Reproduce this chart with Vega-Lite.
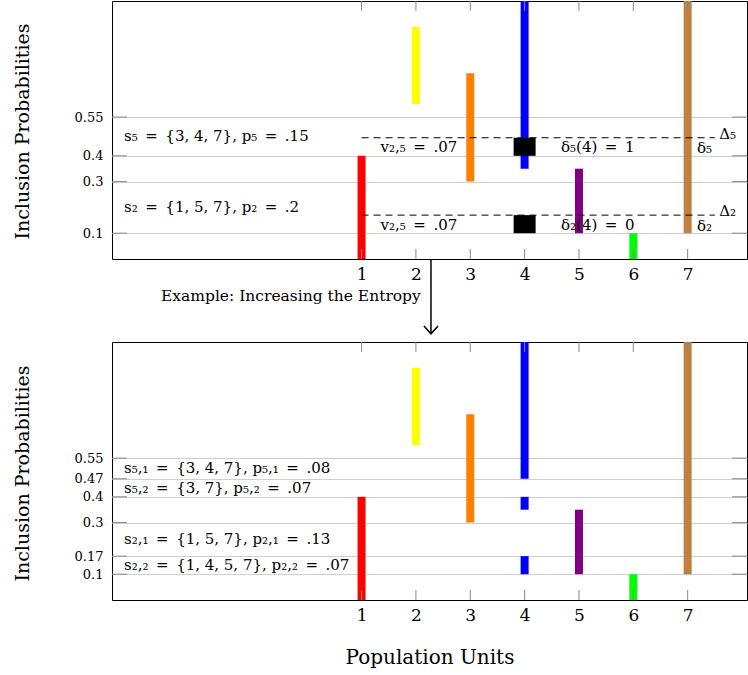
{
  "$schema": "https://vega.github.io/schema/vega-lite/v6.json",
  "padding": {"left": 12, "top": 0, "right": 0, "bottom": 0},
  "autosize": {"type": "pad"},
  "spacing": 83,
  "bounds": "flush",
  "config": {
    "font": "DejaVu Serif",
    "view": {"stroke": "#000000", "strokeWidth": 1},
    "axis": {"labelFont": "DejaVu Serif", "titleFont": "DejaVu Serif", "labelColor": "#000000", "titleColor": "#000000", "domain": false, "ticks": false, "titleFontWeight": "normal", "gridColor": "#cfcfcf"},
    "text": {"font": "DejaVu Serif", "color": "#000000"}
  },
  "datasets": {
    "xt": [{"u": 1}, {"u": 2}, {"u": 3}, {"u": 4}, {"u": 5}, {"u": 6}, {"u": 7}],
    "yt_top": [{"v": 0.1}, {"v": 0.3}, {"v": 0.4}, {"v": 0.55}],
    "yt_bot": [{"v": 0.1}, {"v": 0.17}, {"v": 0.3}, {"v": 0.4}, {"v": 0.47}, {"v": 0.55}],
    "bars_top": [
      {"unit": 1, "lo": 0, "hi": 0.4, "c": "red"},
      {"unit": 2, "lo": 0.6, "hi": 0.9, "c": "yellow"},
      {"unit": 3, "lo": 0.3, "hi": 0.72, "c": "orange"},
      {"unit": 4, "lo": 0.35, "hi": 1, "c": "blue"},
      {"unit": 5, "lo": 0.1, "hi": 0.35, "c": "purple"},
      {"unit": 6, "lo": 0, "hi": 0.1, "c": "green"},
      {"unit": 7, "lo": 0.1, "hi": 1, "c": "brown"}
    ],
    "squares_top": [
      {"unit": 4, "lo": 0.4, "hi": 0.47},
      {"unit": 4, "lo": 0.1, "hi": 0.17}
    ],
    "dash_top": [
      {"x1": 1, "x2": 7.5, "y": 0.47},
      {"x1": 1, "x2": 7.5, "y": 0.17}
    ],
    "lab_top": [
      {"x": -3.37, "y": 0.475, "t": "s₅\u2002=\u2002{3, 4, 7}, p₅\u2002=\u2002.15"},
      {"x": -3.37, "y": 0.2, "t": "s₂\u2002=\u2002{1, 5, 7}, p₂\u2002=\u2002.2"},
      {"x": 1.35, "y": 0.433, "t": "v₂,₅\u2002=\u2002.07"},
      {"x": 1.35, "y": 0.13, "t": "v₂,₅\u2002=\u2002.07"},
      {"x": 4.67, "y": 0.433, "t": "δ₅(4)\u2002=\u20021"},
      {"x": 4.67, "y": 0.13, "t": "δ₂(4)\u2002=\u20020"},
      {"x": 7.17, "y": 0.43, "t": "δ₅"},
      {"x": 7.17, "y": 0.127, "t": "δ₂"},
      {"x": 7.58, "y": 0.485, "t": "Δ₅"},
      {"x": 7.58, "y": 0.185, "t": "Δ₂"}
    ],
    "note": [{"x": 2.09, "y": -0.143, "t": "Example: Increasing the Entropy"}],
    "arrow": [{"x": 2.277, "y1": 0, "y2": -0.29}],
    "bars_bot": [
      {"unit": 1, "lo": 0, "hi": 0.4, "c": "red"},
      {"unit": 2, "lo": 0.6, "hi": 0.9, "c": "yellow"},
      {"unit": 3, "lo": 0.3, "hi": 0.72, "c": "orange"},
      {"unit": 4, "lo": 0.47, "hi": 1, "c": "blue"},
      {"unit": 4, "lo": 0.35, "hi": 0.4, "c": "blue"},
      {"unit": 4, "lo": 0.1, "hi": 0.17, "c": "blue"},
      {"unit": 5, "lo": 0.1, "hi": 0.35, "c": "purple"},
      {"unit": 6, "lo": 0, "hi": 0.1, "c": "green"},
      {"unit": 7, "lo": 0.1, "hi": 1, "c": "brown"}
    ],
    "lab_bot": [
      {"x": -3.37, "y": 0.51, "t": "s₅,₁\u2002=\u2002{3, 4, 7}, p₅,₁\u2002=\u2002.08"},
      {"x": -3.37, "y": 0.436, "t": "s₅,₂\u2002=\u2002{3, 7}, p₅,₂\u2002=\u2002.07"},
      {"x": -3.37, "y": 0.235, "t": "s₂,₁\u2002=\u2002{1, 5, 7}, p₂,₁\u2002=\u2002.13"},
      {"x": -3.37, "y": 0.135, "t": "s₂,₂\u2002=\u2002{1, 4, 5, 7}, p₂,₂\u2002=\u2002.07"}
    ]
  },
  "vconcat": [
    {
      "width": 635,
      "height": 258,
      "layer": [
        {
          "data": {"name": "bars_top"},
          "mark": {"type": "bar", "size": 8, "orient": "vertical"},
          "encoding": {
            "x": {"field": "unit", "type": "quantitative", "scale": {"domain": [-3.5, 8], "nice": false, "zero": false},
                  "axis": {"orient": "bottom", "values": [1, 2, 3, 4, 5, 6, 7], "format": "d", "labelPadding": 7, "labelFontSize": 17, "title": null, "grid": false}},
            "y": {"field": "hi", "type": "quantitative", "scale": {"domain": [0, 1], "nice": false, "zero": false},
                  "axis": {"orient": "left", "values": [0.1, 0.3, 0.4, 0.55], "format": ".2~f", "grid": true, "labelPadding": 9, "labelFontSize": 13, "title": "Inclusion Probabilities", "titleFontSize": 19, "titleAngle": 270, "titleX": -84, "titleY": 130, "titleBaseline": "alphabetic", "titleAlign": "center"}},
            "y2": {"field": "lo"},
            "color": {"field": "c", "type": "nominal", "legend": null,
                      "scale": {"domain": ["red", "yellow", "orange", "blue", "purple", "green", "brown"], "range": ["#ff0000", "#ffff00", "#ff8000", "#0000ff", "#800080", "#00ff00", "#bf8040"]}}
          }
        },
        {
          "data": {"name": "xt"},
          "mark": {"type": "tick", "orient": "vertical", "size": 20, "thickness": 1, "color": "#888888", "opacity": 1, "clip": true},
          "encoding": {
            "x": {"field": "u", "type": "quantitative"},
            "y": {"datum": 0, "type": "quantitative"}
          }
        },
        {
          "data": {"name": "xt"},
          "mark": {"type": "tick", "orient": "vertical", "size": 20, "thickness": 1, "color": "#888888", "opacity": 1, "clip": true},
          "encoding": {
            "x": {"field": "u", "type": "quantitative"},
            "y": {"datum": 1, "type": "quantitative"}
          }
        },
        {
          "data": {"name": "yt_top"},
          "mark": {"type": "tick", "orient": "horizontal", "size": 20, "thickness": 1, "color": "#888888", "opacity": 1, "clip": true},
          "encoding": {
            "y": {"field": "v", "type": "quantitative"},
            "x": {"datum": -3.5, "type": "quantitative"}
          }
        },
        {
          "data": {"name": "yt_top"},
          "mark": {"type": "tick", "orient": "horizontal", "size": 20, "thickness": 1, "color": "#888888", "opacity": 1, "clip": true},
          "encoding": {
            "y": {"field": "v", "type": "quantitative"},
            "x": {"datum": 8, "type": "quantitative"}
          }
        },
        {
          "data": {"name": "squares_top"},
          "mark": {"type": "bar", "size": 22, "color": "#000000", "orient": "vertical"},
          "encoding": {
            "x": {"field": "unit", "type": "quantitative"},
            "y": {"field": "hi", "type": "quantitative"},
            "y2": {"field": "lo"}
          }
        },
        {
          "data": {"name": "dash_top"},
          "mark": {"type": "rule", "color": "#000000", "strokeWidth": 1, "strokeDash": [7, 5]},
          "encoding": {
            "x": {"field": "x1", "type": "quantitative"},
            "x2": {"field": "x2"},
            "y": {"field": "y", "type": "quantitative"}
          }
        },
        {
          "data": {"name": "lab_top"},
          "mark": {"type": "text", "align": "left", "baseline": "middle", "fontSize": 15},
          "encoding": {
            "x": {"field": "x", "type": "quantitative"},
            "y": {"field": "y", "type": "quantitative"},
            "text": {"field": "t"}
          }
        },
        {
          "data": {"name": "note"},
          "mark": {"type": "text", "align": "right", "baseline": "middle", "fontSize": 15.5},
          "encoding": {
            "x": {"field": "x", "type": "quantitative"},
            "y": {"field": "y", "type": "quantitative"},
            "text": {"field": "t"}
          }
        },
        {
          "data": {"name": "arrow"},
          "mark": {"type": "rule", "color": "#000000", "strokeWidth": 1.5},
          "encoding": {
            "x": {"field": "x", "type": "quantitative"},
            "y": {"field": "y1", "type": "quantitative"},
            "y2": {"field": "y2"}
          }
        },
        {
          "data": {"name": "arrow"},
          "mark": {"type": "point", "shape": "M-1,-1.1L0,0L1,-1.1", "filled": false, "stroke": "#000000", "strokeWidth": 1.5, "size": 200, "opacity": 1},
          "encoding": {
            "x": {"field": "x", "type": "quantitative"},
            "y": {"field": "y2", "type": "quantitative"}
          }
        }
      ]
    },
    {
      "width": 635,
      "height": 258,
      "layer": [
        {
          "data": {"name": "bars_bot"},
          "mark": {"type": "bar", "size": 8, "orient": "vertical"},
          "encoding": {
            "x": {"field": "unit", "type": "quantitative", "scale": {"domain": [-3.5, 8], "nice": false, "zero": false},
                  "axis": {"orient": "bottom", "values": [1, 2, 3, 4, 5, 6, 7], "format": "d", "labelPadding": 7, "labelFontSize": 17, "title": "Population Units", "titleFontSize": 20, "titlePadding": 24, "grid": false}},
            "y": {"field": "hi", "type": "quantitative", "scale": {"domain": [0, 1], "nice": false, "zero": false},
                  "axis": {"orient": "left", "values": [0.1, 0.17, 0.3, 0.4, 0.47, 0.55], "format": ".2~f", "grid": true, "labelPadding": 9, "labelFontSize": 13, "title": "Inclusion Probabilities", "titleFontSize": 19, "titleAngle": 270, "titleX": -84, "titleY": 131, "titleBaseline": "alphabetic", "titleAlign": "center"}},
            "y2": {"field": "lo"},
            "color": {"field": "c", "type": "nominal", "legend": null,
                      "scale": {"domain": ["red", "yellow", "orange", "blue", "purple", "green", "brown"], "range": ["#ff0000", "#ffff00", "#ff8000", "#0000ff", "#800080", "#00ff00", "#bf8040"]}}
          }
        },
        {
          "data": {"name": "xt"},
          "mark": {"type": "tick", "orient": "vertical", "size": 20, "thickness": 1, "color": "#888888", "opacity": 1, "clip": true},
          "encoding": {
            "x": {"field": "u", "type": "quantitative"},
            "y": {"datum": 0, "type": "quantitative"}
          }
        },
        {
          "data": {"name": "xt"},
          "mark": {"type": "tick", "orient": "vertical", "size": 20, "thickness": 1, "color": "#888888", "opacity": 1, "clip": true},
          "encoding": {
            "x": {"field": "u", "type": "quantitative"},
            "y": {"datum": 1, "type": "quantitative"}
          }
        },
        {
          "data": {"name": "yt_bot"},
          "mark": {"type": "tick", "orient": "horizontal", "size": 20, "thickness": 1, "color": "#888888", "opacity": 1, "clip": true},
          "encoding": {
            "y": {"field": "v", "type": "quantitative"},
            "x": {"datum": -3.5, "type": "quantitative"}
          }
        },
        {
          "data": {"name": "yt_bot"},
          "mark": {"type": "tick", "orient": "horizontal", "size": 20, "thickness": 1, "color": "#888888", "opacity": 1, "clip": true},
          "encoding": {
            "y": {"field": "v", "type": "quantitative"},
            "x": {"datum": 8, "type": "quantitative"}
          }
        },
        {
          "data": {"name": "lab_bot"},
          "mark": {"type": "text", "align": "left", "baseline": "middle", "fontSize": 15},
          "encoding": {
            "x": {"field": "x", "type": "quantitative"},
            "y": {"field": "y", "type": "quantitative"},
            "text": {"field": "t"}
          }
        }
      ]
    }
  ]
}
